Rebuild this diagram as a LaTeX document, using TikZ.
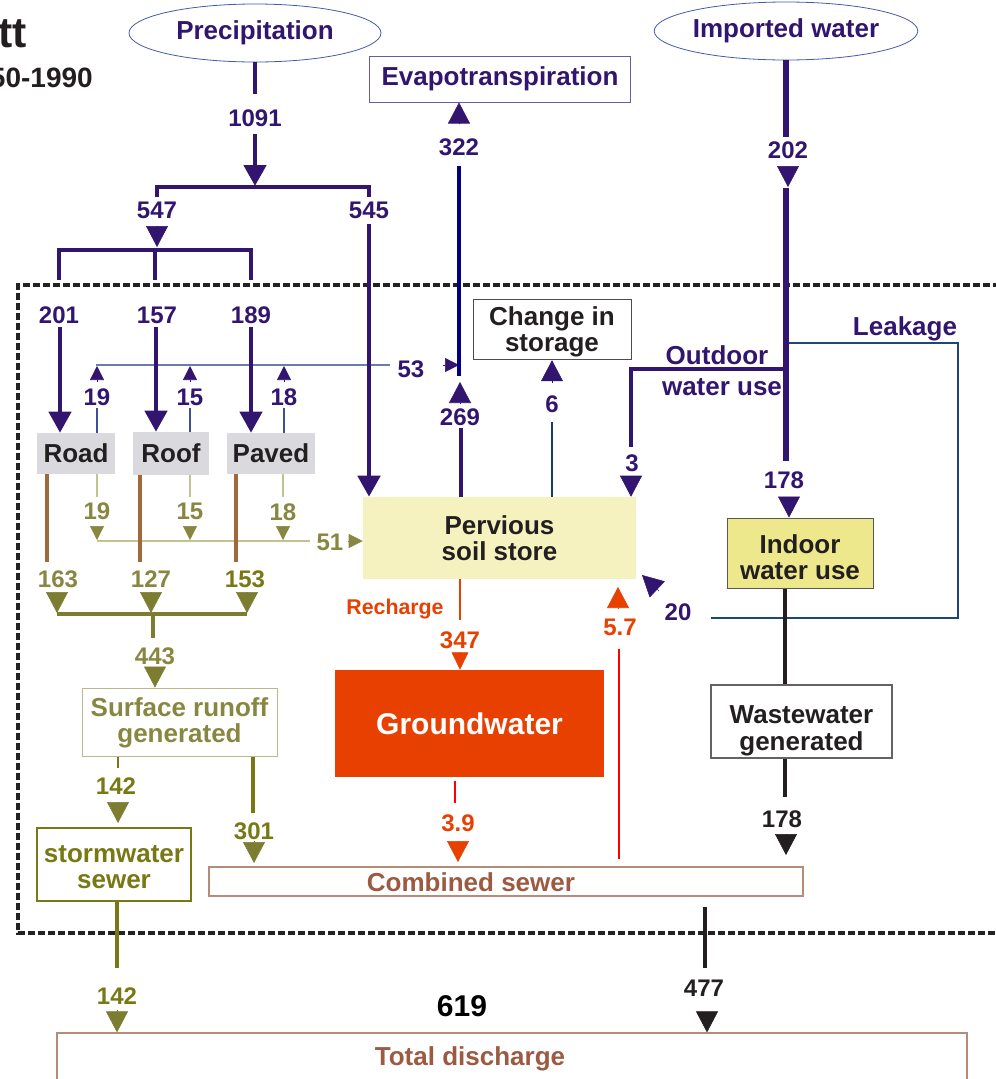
\documentclass[tikz,border=0pt]{standalone}
\usepackage{fontspec}
\setmainfont{Liberation Sans}
\usetikzlibrary{arrows.meta,shapes.geometric}
\definecolor{pur}{RGB}{49,21,110}
\definecolor{navyl}{RGB}{0,0,128}
\definecolor{thinblue}{RGB}{105,125,175}
\definecolor{vblue}{RGB}{60,80,150}
\definecolor{evbord}{RGB}{110,90,160}
\definecolor{ellbord}{RGB}{70,90,170}
\definecolor{dark}{RGB}{35,31,32}
\definecolor{graybox}{RGB}{217,217,222}
\definecolor{brownl}{RGB}{160,105,60}
\definecolor{olivelt}{RGB}{195,195,145}
\definecolor{olivelab}{RGB}{135,135,65}
\definecolor{olivedk}{RGB}{120,120,20}
\definecolor{olivethk}{RGB}{125,125,50}
\definecolor{olivebord}{RGB}{185,185,140}
\definecolor{pssfill}{RGB}{245,242,192}
\definecolor{indfill}{RGB}{238,232,140}
\definecolor{orng}{RGB}{232,64,0}
\definecolor{redl}{RGB}{255,0,0}
\definecolor{leakl}{RGB}{30,70,120}
\definecolor{stor}{RGB}{20,60,110}
\definecolor{sewtext}{RGB}{155,90,65}
\definecolor{sewbord}{RGB}{180,140,120}
\definecolor{frame}{RGB}{35,35,35}
\def\pxu{*0.75pt}
\newcommand\myfnum{\bfseries\fontsize{18}{18}\selectfont}
\newcommand\myftxt{\bfseries\fontsize{19.5}{19.5}\selectfont}
\newcommand\mytwolines[3]{\begin{tabular}{@{}c@{}}\rule{0pt}{#1}#2\\#3\end{tabular}}
\begin{document}
\begin{tikzpicture}[x=0.75pt,y=-0.75pt,
  num/.style={font=\myfnum, inner sep=0pt},
  lbl/.style={font=\myftxt, inner sep=0pt, align=center},
  thk/.style={line width=3.6pt},
  med/.style={line width=2.5pt},
  thn/.style={line width=0.8pt},
  bigtip/.style={-{Triangle[length=15.75pt,width=16.5pt]}},
  midtip/.style={-{Triangle[length=13pt,width=12.5pt]}},
  smalltip/.style={-{Triangle[length=10.5pt,width=10.5pt]}},
  ell/.style={ellipse, draw=ellbord, line width=0.6pt, fill=white, inner sep=0pt, font=\myftxt, text=pur},
  framestyle/.style={draw=frame, line width=3pt, dash pattern=on 5pt off 2.5pt}
]
\useasboundingbox (0,0) rectangle (996,1079);
\clip (0,0) rectangle (996,1079);

% title fragments
\node[anchor=base east, font=\bfseries\fontsize{32}{32}\selectfont, text=dark, inner sep=0pt] (ttl) at (27,47) {tt};
\node[anchor=base east, font=\bfseries\fontsize{21}{21}\selectfont, text=dark, inner sep=0pt] (yrs) at (93,87) {50-1990};

% system boundary
\coordinate (frA) at (1010,285);
\coordinate (frB) at (18,285);
\coordinate (frC) at (18,933);
\coordinate (frD) at (1010,933);
\draw[framestyle] (frA) -- (frB) -- (frC) -- (frD);

% ---- nodes ----
\node[ell, minimum width=252\pxu, minimum height=58\pxu] (prec) at (255,33) {Precipitation};
\node[ell, minimum width=252\pxu, minimum height=58\pxu] (imp) at (786,31) {Imported water};
\node[lbl, draw=evbord, line width=0.75pt, text=pur, minimum width=261\pxu, minimum height=46\pxu] (evap) at (500,79) {Evapotranspiration};
\node[lbl, draw=dark!80, line width=0.75pt, text=dark, minimum width=158\pxu, minimum height=57\pxu] (cis) at (552,329.5) {\mytwolines{20pt}{Change in}{storage}};
\node[lbl, fill=graybox, text=dark, minimum width=78\pxu, minimum height=41\pxu] (road) at (76,453.5) {Road};
\node[lbl, fill=graybox, text=dark, minimum width=76\pxu, minimum height=43\pxu] (roof) at (171,453.5) {Roof};
\node[lbl, fill=graybox, text=dark, minimum width=88\pxu, minimum height=41\pxu] (paved) at (271,453.5) {Paved};
\node[lbl, fill=pssfill, text=dark, minimum width=273\pxu, minimum height=82\pxu] (pss) at (499.5,538) {\mytwolines{20pt}{Pervious}{soil store}};
\node[lbl, fill=indfill, draw=dark!75, line width=0.75pt, text=dark, minimum width=146\pxu, minimum height=70\pxu] (indoor) at (800,553) {\mytwolines{26pt}{Indoor}{water use}};
\node[lbl, fill=orng, text=white, font=\bfseries\fontsize{22.5}{22.5}\selectfont, minimum width=269\pxu, minimum height=107\pxu] (gw) at (469.5,723.5) {Groundwater};
\node[lbl, draw=olivebord, line width=0.75pt, text=olivelab, minimum width=195\pxu, minimum height=68\pxu] (srg) at (179.5,722) {\mytwolines{17pt}{Surface runoff}{generated}};
\node[lbl, draw=dark!70, line width=0.9pt, text=dark, minimum width=181\pxu, minimum height=63\pxu] (wwg) at (801.5,721.5) {\mytwolines{29pt}{Wastewater}{generated}};
\node[lbl, draw=olivedk, line width=0.9pt, text=olivedk, minimum width=154\pxu, minimum height=73\pxu] (sws) at (114,864.5) {\mytwolines{22pt}{stormwater}{sewer}};
\node[draw=sewbord, line width=0.9pt, inner sep=0pt, minimum width=594\pxu, minimum height=29\pxu] (cs) at (506,881.5) {};
\node[lbl, text=sewtext] (cstxt) at (471,882) {Combined sewer};
\node[draw=sewbord, line width=0.9pt, inner sep=0pt, minimum width=910\pxu, minimum height=80\pxu] (td) at (512,1073) {};
\node[lbl, text=sewtext] (tdtxt) at (470,1059) {Total discharge};
\node[font=\bfseries\fontsize{22.5}{22.5}\selectfont, text=black, inner sep=0pt] (n619) at (462,1006) {619};

% ---- labels ----
\node[num, text=pur] (n1091) at (255,118) {1091};
\node[num, text=pur] (n547) at (157,210) {547};
\node[num, text=pur] (n545) at (369,210) {545};
\node[num, text=pur] (n322) at (459,147) {322};
\node[num, text=pur] (n202) at (788,150) {202};
\node[num, text=pur] (n201) at (59,315) {201};
\node[num, text=pur] (n157) at (157,315) {157};
\node[num, text=pur] (n189) at (251,315) {189};
\node[num, text=pur] (n53) at (411,369) {53};
\node[num, text=pur] (u19) at (97,397) {19};
\node[num, text=pur] (u15) at (190,397) {15};
\node[num, text=pur] (u18) at (284,397) {18};
\node[num, text=pur] (n269) at (460,417) {269};
\node[num, text=pur] (n6) at (552,404) {6};
\node[num, text=pur] (n3) at (632,463) {3};
\node[num, text=pur] (n178a) at (784,480) {178};
\node[num, text=pur] (n20) at (678,612) {20};
\node[lbl, text=pur] (outd1) at (717,355) {Outdoor};
\node[lbl, text=pur] (outd2) at (722,387) {water use};
\node[lbl, text=pur] (leak) at (905,329) {Leakage};
\node[num, text=olivelab] (d19) at (97,511) {19};
\node[num, text=olivelab] (d15) at (190,511) {15};
\node[num, text=olivelab] (d18) at (283,512) {18};
\node[num, text=olivelab] (n51) at (330,542) {51};
\node[num, text=olivelab] (n163) at (58,579) {163};
\node[num, text=olivelab] (n127) at (151,579) {127};
\node[num, text=olivedk] (n153) at (245,579) {153};
\node[num, text=olivelab] (n443) at (155,656) {443};
\node[num, text=olivedk] (n142a) at (116,786) {142};
\node[num, text=olivedk] (n301) at (254,831) {301};
\node[num, text=olivedk] (n142b) at (117,996) {142};
\node[font=\bfseries\fontsize{16}{16}\selectfont, text=orng, inner sep=0pt] (rech) at (395,609) {Recharge};
\node[num, text=orng] (n347) at (460,640) {347};
\node[num, text=orng] (n39) at (458,823) {3.9};
\node[num, text=orng] (n57) at (620,627) {5.7};
\node[num, text=dark] (n178b) at (782,819) {178};
\node[num, text=dark] (n477) at (704,988) {477};

% ---- coordinates ----
\coordinate (p1) at (255,94);
\coordinate (p2) at (255,134);
\coordinate (p3) at (255,186);
\coordinate (bar1) at (255,187);
\coordinate (s547) at (157,197);
\coordinate (s545) at (369,197);
\coordinate (a547) at (157,226);
\coordinate (b547) at (157,247);
\coordinate (bar2) at (155,250);
\coordinate (s201) at (59,280);
\coordinate (s157) at (155,280);
\coordinate (s189) at (251,280);
\coordinate (a545) at (369,224);
\coordinate (e1) at (459,124);
\coordinate (e2) at (459,166);
\coordinate (e3) at (459,376);
\coordinate (h53a) at (96,365);
\coordinate (h53b) at (390,365);
\coordinate (t53a) at (443,365);
\coordinate (t53b) at (459,365);
\coordinate (a269) at (460,403);
\coordinate (b269) at (460,382);
\coordinate (l269) at (461,428);
\coordinate (a6) at (552,383);
\coordinate (l6) at (552,422);
\coordinate (i1) at (786,137);
\coordinate (a202) at (788,166);
\coordinate (b202) at (788,187);
\coordinate (i2) at (786,188);
\coordinate (i3) at (786,461);
\coordinate (a178) at (789,497);
\coordinate (o1) at (786,369);
\coordinate (o2) at (631,369);
\coordinate (o3) at (631,447);
\coordinate (a3) at (631,476);
\coordinate (lk1) at (788,343);
\coordinate (lk2) at (958,343);
\coordinate (lk3) at (958,618);
\coordinate (lk4) at (711,618);
\coordinate (a20) at (659,591);
\coordinate (b20) at (642,575);
\coordinate (c201) at (60,327);
\coordinate (c157) at (156,327);
\coordinate (c189) at (251,327);
\coordinate (uu19) at (97,382);
\coordinate (uv19) at (97,366);
\coordinate (ul19) at (97,408);
\coordinate (uu15) at (190,382);
\coordinate (uv15) at (190,366);
\coordinate (ul15) at (190,408);
\coordinate (uu18) at (284,382);
\coordinate (uv18) at (284,366);
\coordinate (ul18) at (284,408);
\coordinate (br1) at (47,562);
\coordinate (br2) at (140,562);
\coordinate (br3) at (236,562);
\coordinate (ol1) at (97,497);
\coordinate (ol2) at (190,497);
\coordinate (ol3) at (283,497);
\coordinate (oa1) at (97,526);
\coordinate (oa2) at (190,526);
\coordinate (oa3) at (283,526);
\coordinate (ob1) at (97,540);
\coordinate (ob2) at (190,540);
\coordinate (ob3) at (283,540);
\coordinate (h51a) at (97,541);
\coordinate (h51b) at (310,541);
\coordinate (a51) at (348,541);
\coordinate (g1) at (57,595);
\coordinate (g2) at (151,595);
\coordinate (g3) at (247,595);
\coordinate (gb1) at (57,613);
\coordinate (gb2) at (151,613);
\coordinate (gb3) at (247,613);
\coordinate (barl) at (57,614);
\coordinate (barm) at (153,614);
\coordinate (barr) at (247,614);
\coordinate (m443) at (153,638);
\coordinate (a443) at (155,667);
\coordinate (sr1) at (118,768);
\coordinate (a142) at (118,802);
\coordinate (b142) at (118,823);
\coordinate (sr2) at (253,813);
\coordinate (a301) at (254,841);
\coordinate (b301) at (254,863);
\coordinate (sw1) at (117,968);
\coordinate (a142b) at (117,1010);
\coordinate (r1) at (460,620);
\coordinate (a347) at (460,652);
\coordinate (g39a) at (455,781);
\coordinate (g39b) at (455,803);
\coordinate (a39) at (458,841);
\coordinate (b39) at (458,862);
\coordinate (r57a) at (619,649);
\coordinate (r57b) at (619,859);
\coordinate (a57) at (618,608);
\coordinate (b57) at (618,587);
\coordinate (w1) at (785,797);
\coordinate (a178b) at (786,834);
\coordinate (b178b) at (786,855);
\coordinate (x1) at (705,907);
\coordinate (x2) at (705,968);
\coordinate (a477) at (707,1012);

% ---- thin connectors (drawn first) ----
\draw[thinblue, line width=1pt] (h53a) -- (h53b);
\draw[pur, smalltip] (t53a) -- (t53b);
\draw[vblue, thn] (ul19) -- (ul19 |- road.north);
\draw[vblue, thn] (ul15) -- (ul15 |- roof.north);
\draw[vblue, thn] (ul18) -- (ul18 |- paved.north);
\draw[pur, smalltip] (uu19) -- (uv19);
\draw[pur, smalltip] (uu15) -- (uv15);
\draw[pur, smalltip] (uu18) -- (uv18);
\draw[olivelt, line width=1.2pt] (ol1 |- road.south) -- (ol1);
\draw[olivelt, line width=1.2pt] (ol2 |- roof.south) -- (ol2);
\draw[olivelt, line width=1.2pt] (ol3 |- paved.south) -- (ol3);
\draw[olivelab, smalltip] (oa1) -- (ob1);
\draw[olivelab, smalltip] (oa2) -- (ob2);
\draw[olivelab, smalltip] (oa3) -- (ob3);
\draw[olivelt, line width=1.5pt] (h51a) -- (h51b);
\draw[olivelab, smalltip] (a51) -- (a51 -| pss.west);
\draw[leakl, line width=1pt] (lk1) -- (lk2) -- (lk3) -- (lk4);
\draw[pur, bigtip] (a20) -- (b20);

% ---- precipitation branch ----
\draw[pur, thk] (prec.south) -- (p1);
\draw[pur, thk, bigtip] (p2) -- (p3);
\draw[pur, thk] (s547) |- (bar1) -| (s545);
\draw[pur, bigtip] (a547) -- (b547);
\draw[pur, thk] (s201) |- (bar2) -| (s189);
\draw[pur, thk] (bar2) -- (s157);
\draw[pur, thk, bigtip] (a545) -- (a545 |- pss.north);
\draw[pur, line width=3.2pt, bigtip] (c201) -- (c201 |- road.north);
\draw[pur, line width=3.2pt, bigtip] (c157) -- (c157 |- roof.north);
\draw[pur, line width=3.2pt, bigtip] (c189) -- (c189 |- paved.north);

% ---- evapotranspiration ----
\draw[pur, bigtip] (e1) -- (e1 |- evap.south);
\draw[navyl, line width=3.2pt] (e2) -- (e3);
\draw[pur, bigtip] (a269) -- (b269);
\draw[pur, thk] (l269 |- pss.north) -- (l269);

% ---- change in storage ----
\draw[pur, bigtip] (a6) -- (a6 |- cis.south);
\draw[stor, line width=1.8pt] (l6 |- pss.north) -- (l6);

% ---- imported water ----
\draw[pur, line width=4.8pt] (imp.south) -- (i1);
\draw[pur, bigtip] (a202) -- (b202);
\draw[pur, line width=4.8pt] (i2) -- (i3);
\draw[pur, bigtip] (a178) -- (a178 |- indoor.north);
\draw[pur, line width=3pt] (o1) -- (o2) -- (o3);
\draw[pur, bigtip] (a3) -- (a3 |- pss.north);

% ---- roofs etc to runoff ----
\draw[brownl, med] (br1 |- road.south) -- (br1);
\draw[brownl, med] (br2 |- roof.south) -- (br2);
\draw[brownl, med] (br3 |- paved.south) -- (br3);
\draw[olivethk, bigtip] (g1) -- (gb1);
\draw[olivethk, bigtip] (g2) -- (gb2);
\draw[olivethk, bigtip] (g3) -- (gb3);
\draw[olivethk, line width=3.2pt] (barl) -- (barr);
\draw[olivethk, line width=3.6pt] (barm) -- (m443);
\draw[olivethk, bigtip] (a443) -- (a443 |- srg.north);
\draw[olivedk, line width=2.2pt] (sr1 |- srg.south) -- (sr1);
\draw[olivethk, bigtip] (a142) -- (b142);
\draw[olivedk, line width=2.7pt] (sr2 |- srg.south) -- (sr2);
\draw[olivethk, bigtip] (a301) -- (b301);
\draw[olivedk, line width=2.5pt] (sws.south -| sw1) -- (sw1);
\draw[olivethk, bigtip] (a142b) -- (a142b |- td.north);

% ---- groundwater ----
\draw[orng, line width=1.8pt] (r1 |- pss.south) -- (r1);
\draw[orng, midtip] (a347) -- (a347 |- gw.north);
\draw[redl, line width=1.8pt] (g39a) -- (g39b);
\draw[orng, bigtip] (a39) -- (b39);
\draw[redl, line width=1.8pt] (r57a) -- (r57b);
\draw[orng, bigtip] (a57) -- (b57);

% ---- wastewater ----
\draw[dark, line width=3.5pt] (indoor.south -| w1) -- (wwg.north -| w1);
\draw[dark, line width=3.5pt] (wwg.south -| w1) -- (w1);
\draw[dark, bigtip] (a178b) -- (b178b);
\draw[dark, line width=3.3pt] (x1) -- (x2);
\draw[dark, bigtip] (a477) -- (a477 |- td.north);
\end{tikzpicture}
\end{document}
